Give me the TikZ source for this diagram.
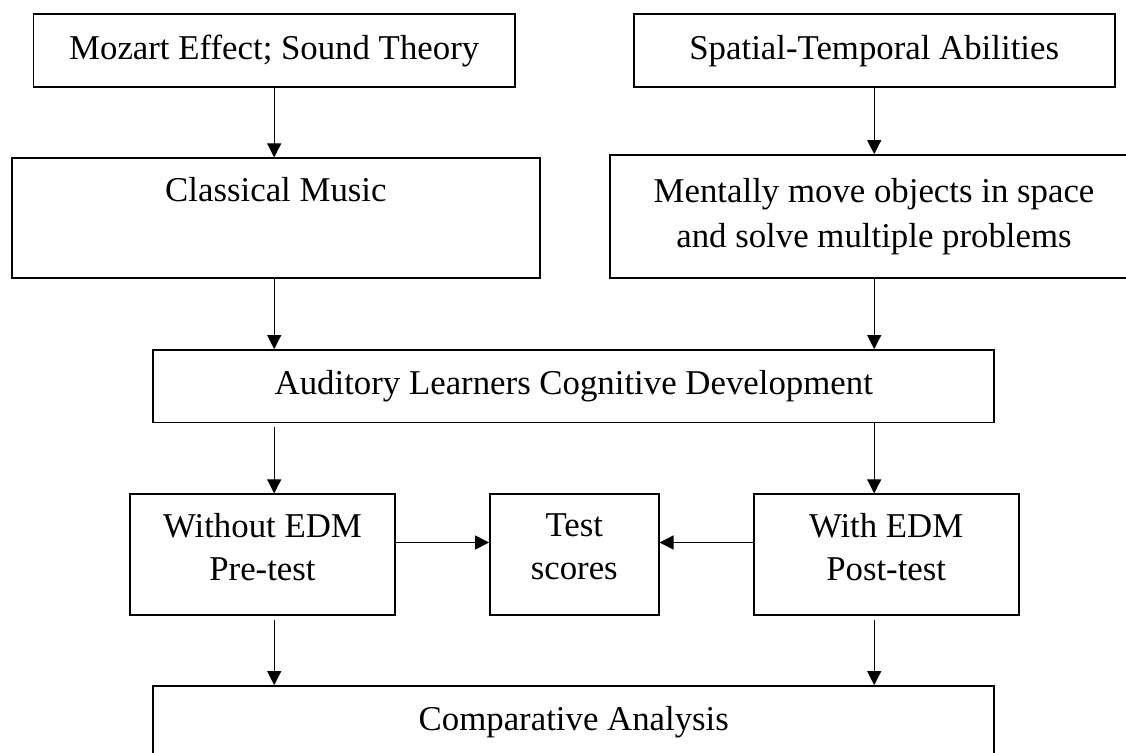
\documentclass[tikz,border=0pt]{standalone}
\usepackage{fontspec}
\setmainfont{Liberation Serif}
\usetikzlibrary{arrows.meta}

\begin{document}
\begin{tikzpicture}[x=0.5pt, y=-0.5pt, >={Triangle[length=7pt,width=7pt]},
		font=\fontsize{17.4}{22.5}\selectfont]
	\tikzset{
		box/.style={draw, line width=0.9pt, inner sep=0pt, align=center},
		link/.style={->, line width=0.6pt}
	}
	\useasboundingbox (0,0) rectangle (1126,753);

	% two sources on top
	\node[box, minimum width=240.8pt, minimum height=36.6pt] (mozart) at (274.2,50.7) {Mozart Effect; Sound Theory};
	\node[box, minimum width=240.5pt, minimum height=36.6pt] (spatial) at (874.2,50.7) {Spatial-Temporal Abilities};

	% second row, right box runs past the edge
	\node[box, minimum width=264.2pt, minimum height=60pt] (classical) at (275.9,218.3) {Classical Music\\ \strut};
	\node[box, minimum width=264.2pt, minimum height=61.7pt] (mentally) at (874,216.7) {Mentally move objects in space\\ and solve multiple problems};

	\node[box, minimum width=420.5pt, minimum height=36.3pt] (auditory) at (573.8,386.3) {Auditory Learners Cognitive Development};

	% pre/post test row
	\node[box, text depth=8pt, minimum width=132.5pt, minimum height=60.2pt] (without) at (262.5,554.5) {Without EDM\\[-1pt] Pre-test};
	\node[box, text depth=8pt, minimum width=84.3pt, minimum height=60.2pt] (test) at (574.3,554.5) {Test\\[-1pt] scores};
	\node[box, text depth=8pt, minimum width=132.5pt, minimum height=60.2pt] (with) at (886.2,554.5) {With EDM\\[-1pt] Post-test};

	\node[box, minimum width=420.5pt, minimum height=36.3pt] (comparative) at (573.8,722.3) {Comparative Analysis};

	% connectors
	\draw[link] (mozart) -- (mozart |- classical.north);
	\draw[link] (spatial) -- (spatial |- mentally.north);
	\draw[link] (classical.south -| mozart) -- (auditory.north -| mozart);
	\draw[link] (mentally.south -| spatial) -- (auditory.north -| spatial);
	\draw[link, shorten <=2pt] (auditory.south -| mozart) -- (without.north -| mozart);
	\draw[link] (auditory.south -| spatial) -- (with.north -| spatial);
	\draw[link] ([yshift=6pt]without.east) -- ([yshift=6pt]test.west);
	\draw[link] ([yshift=6pt]with.west) -- ([yshift=6pt]test.east);
	\draw[link, shorten <=2pt] (without.south -| mozart) -- (comparative.north -| mozart);
	\draw[link, shorten <=2pt] (with.south -| spatial) -- (comparative.north -| spatial);
\end{tikzpicture}
\end{document}
